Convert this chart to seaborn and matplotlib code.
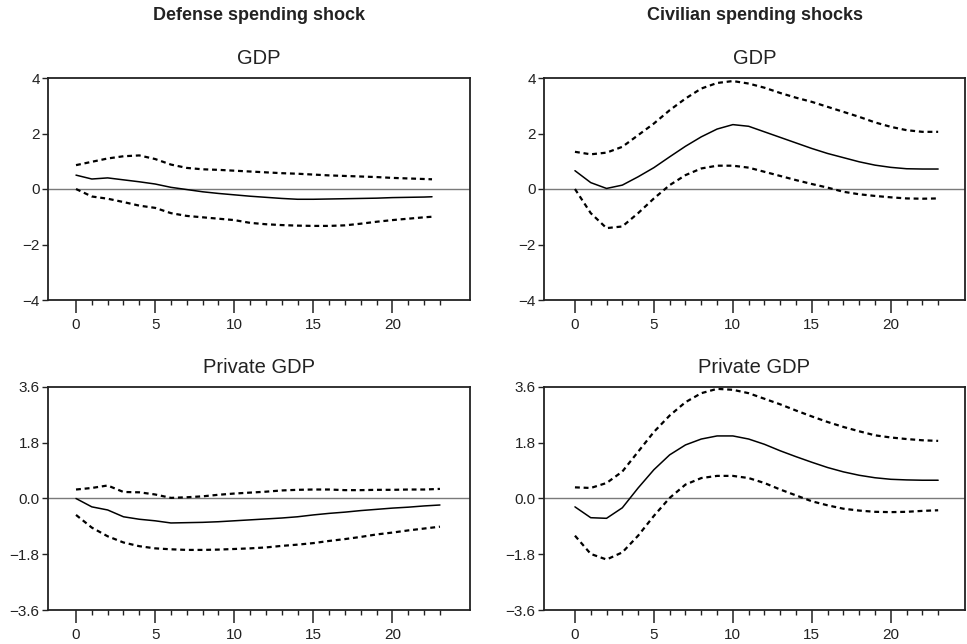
import numpy as np
import pandas as pd
import matplotlib
matplotlib.use("Agg")
import matplotlib.pyplot as plt
import seaborn as sns

sns.set_style("ticks")
plt.rcParams['font.family'] = ['Liberation Sans', 'DejaVu Sans']

# ---------------- data ----------------
h_tl = [0, 1, 2, 3, 4, 5, 6, 7, 8, 9, 10, 11, 12, 13, 14, 15, 16, 17, 18, 19, 20, 21, 22, 22.5]
h_full = list(range(0, 24))

# Defense shock, GDP
def_gdp_est = [0.50, 0.36, 0.40, 0.33, 0.26, 0.18, 0.06, -0.02, -0.10, -0.16, -0.21, -0.26,
               -0.30, -0.34, -0.37, -0.37, -0.36, -0.35, -0.34, -0.33, -0.31, -0.30, -0.29, -0.28]
def_gdp_hi = [0.86, 0.98, 1.10, 1.18, 1.21, 1.08, 0.88, 0.76, 0.71, 0.69, 0.66, 0.63,
              0.60, 0.57, 0.55, 0.52, 0.49, 0.47, 0.45, 0.43, 0.40, 0.38, 0.36, 0.35]
def_gdp_lo = [0.00, -0.27, -0.35, -0.47, -0.60, -0.68, -0.87, -0.97, -1.02, -1.07, -1.12, -1.22,
              -1.27, -1.30, -1.32, -1.33, -1.33, -1.31, -1.25, -1.18, -1.12, -1.07, -1.02, -1.00]

# Civilian shock, GDP
civ_gdp_est = [0.66, 0.23, 0.02, 0.14, 0.44, 0.77, 1.16, 1.54, 1.88, 2.16, 2.32, 2.26,
               2.06, 1.86, 1.66, 1.46, 1.28, 1.13, 0.98, 0.86, 0.78, 0.73, 0.72, 0.72]
civ_gdp_hi = [1.34, 1.25, 1.31, 1.52, 1.94, 2.36, 2.84, 3.26, 3.62, 3.82, 3.89, 3.80,
              3.65, 3.46, 3.29, 3.14, 2.96, 2.78, 2.60, 2.40, 2.24, 2.12, 2.06, 2.06]
civ_gdp_lo = [0.00, -0.87, -1.41, -1.35, -0.87, -0.34, 0.14, 0.50, 0.74, 0.84, 0.84, 0.77,
              0.62, 0.47, 0.32, 0.18, 0.05, -0.10, -0.19, -0.25, -0.30, -0.34, -0.35, -0.34]

# Defense shock, Private GDP
def_pgdp_est = [0.00, -0.27, -0.37, -0.59, -0.67, -0.72, -0.79, -0.78, -0.77, -0.75, -0.72, -0.69,
                -0.66, -0.63, -0.59, -0.53, -0.48, -0.44, -0.39, -0.35, -0.31, -0.28, -0.24, -0.21]
def_pgdp_hi = [0.29, 0.34, 0.42, 0.21, 0.20, 0.13, 0.02, 0.04, 0.07, 0.12, 0.16, 0.19,
               0.22, 0.26, 0.28, 0.29, 0.29, 0.27, 0.27, 0.28, 0.28, 0.29, 0.29, 0.31]
def_pgdp_lo = [-0.53, -0.94, -1.22, -1.42, -1.54, -1.61, -1.64, -1.66, -1.66, -1.65, -1.63, -1.61,
               -1.58, -1.53, -1.49, -1.44, -1.37, -1.31, -1.24, -1.16, -1.10, -1.03, -0.97, -0.91]

# Civilian shock, Private GDP
civ_pgdp_est = [-0.27, -0.62, -0.64, -0.30, 0.34, 0.93, 1.41, 1.73, 1.92, 2.02, 2.02, 1.92,
                1.75, 1.54, 1.35, 1.17, 1.00, 0.86, 0.75, 0.67, 0.62, 0.60, 0.59, 0.59]
civ_pgdp_hi = [0.36, 0.34, 0.50, 0.87, 1.51, 2.15, 2.68, 3.11, 3.40, 3.54, 3.51, 3.40,
               3.22, 3.04, 2.84, 2.65, 2.47, 2.31, 2.17, 2.04, 1.97, 1.92, 1.88, 1.86]
civ_pgdp_lo = [-1.20, -1.79, -1.97, -1.74, -1.20, -0.56, 0.02, 0.45, 0.66, 0.73, 0.73, 0.66,
               0.50, 0.29, 0.10, -0.09, -0.22, -0.33, -0.39, -0.43, -0.44, -0.43, -0.40, -0.38]

col_titles = ["Defense spending shock", "Civilian spending shocks"]
row_titles = ["GDP", "Private GDP"]
yticks_gdp = [-4, -2, 0, 2, 4]
yticks_pgdp = [-3.6, -1.8, 0.0, 1.8, 3.6]
xticks_major = [0, 5, 10, 15, 20]

panels = [
    (h_tl, def_gdp_est, def_gdp_hi, def_gdp_lo, yticks_gdp, row_titles[0]),
    (h_full, civ_gdp_est, civ_gdp_hi, civ_gdp_lo, yticks_gdp, row_titles[0]),
    (h_full, def_pgdp_est, def_pgdp_hi, def_pgdp_lo, yticks_pgdp, row_titles[1]),
    (h_full, civ_pgdp_est, civ_pgdp_hi, civ_pgdp_lo, yticks_pgdp, row_titles[1]),
]

# ---------------- figure ----------------
W, H = 967, 644
fig = plt.figure(figsize=(W / 100, H / 100), dpi=100)

boxes = [
    (48, 78, 470, 300),
    (544, 78, 965, 300),
    (48, 387, 470, 610),
    (544, 387, 965, 610),
]
xlims = [(-1.77, 24.9), (-1.96, 24.7), (-1.77, 24.9), (-1.96, 24.7)]

dash = (0, (2.2, 1.7))
for (x0, y0, x1, y1), (h, est, hi, lo, yt, title), xl in zip(boxes, panels, xlims):
    ax = fig.add_axes([x0 / W, 1 - y1 / H, (x1 - x0) / W, (y1 - y0) / H])
    df = pd.DataFrame({"h": h, "est": est, "hi": hi, "lo": lo})
    ax.axhline(0, color="#7a7a7a", lw=1.0, zorder=1)
    sns.lineplot(data=df, x="h", y="est", ax=ax, color="black", lw=1.1, zorder=3)
    sns.lineplot(data=df, x="h", y="hi", ax=ax, color="black", lw=1.6, linestyle=dash, zorder=3)
    sns.lineplot(data=df, x="h", y="lo", ax=ax, color="black", lw=1.6, linestyle=dash, zorder=3)
    ax.set_xlim(*xl)
    ax.set_ylim(yt[0], yt[-1])
    ax.set_yticks(yt)
    if isinstance(yt[0], float):
        ax.set_yticklabels([f"{v:.1f}".replace("-", "\u2212") for v in yt])
    else:
        ax.set_yticklabels([f"{v}".replace("-", "\u2212") for v in yt])
    ax.set_xticks(xticks_major)
    ax.xaxis.set_minor_locator(plt.FixedLocator(list(range(0, 24))))
    ax.set_xlabel("")
    ax.set_ylabel("")
    for s in ax.spines.values():
        s.set_visible(True)
        s.set_linewidth(1.3)
        s.set_color("#222222")
    ax.tick_params(axis="x", which="major", length=9, width=1.1, direction="out",
                   labelsize=11, pad=4, color="#222222", labelcolor="#222222")
    ax.tick_params(axis="x", which="minor", length=3.8, width=1.0, direction="out", color="#222222")
    ax.tick_params(axis="y", which="major", length=4, width=1.0, direction="out",
                   labelsize=11, pad=2, color="#222222", labelcolor="#222222")
    ax.tick_params(top=False, right=False)
    ax.set_title(title, fontsize=14.5, pad=10, color="#222222")

fig.text(259 / W, 1 - 16 / H, col_titles[0], ha="center", va="center",
         fontsize=13, fontweight="bold", color="#222222")
fig.text(755 / W, 1 - 16 / H, col_titles[1], ha="center", va="center",
         fontsize=13, fontweight="bold", color="#222222")

fig.savefig("out.png", dpi=100)
